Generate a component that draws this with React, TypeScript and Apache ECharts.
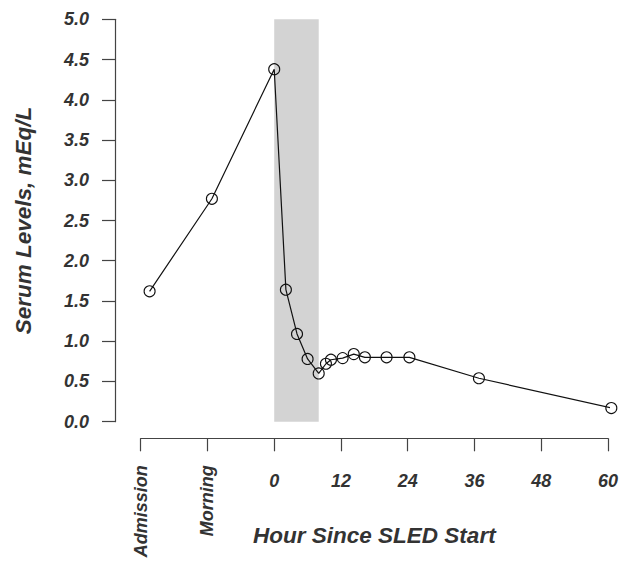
import React, { useEffect, useRef } from "react";
import * as echarts from "echarts";

const hours = [-22.4, -11.2, 0, 2.1, 4.1, 6.0, 8.0, 9.3, 10.2, 12.3, 14.3, 16.3, 20.2, 24.3, 36.8, 60.6];
const serum = [1.62, 2.77, 4.38, 1.64, 1.09, 0.78, 0.6, 0.72, 0.77, 0.79, 0.84, 0.8, 0.8, 0.8, 0.54, 0.17];
const sledStart = 0;
const sledEnd = 8;
const namedTicks: Record<number, string> = { [-24]: "Admission", [-12]: "Morning" };
const xTitle = "Hour Since SLED Start";
const yTitle = "Serum Levels, mEq/L";

const FONT = "'Liberation Sans', Arial, sans-serif";
const TEXT = "#333";
const AXIS = "#444";

export default function App() {
  const ref = useRef<HTMLDivElement>(null);
  useEffect(() => {
    document.body.style.margin = "0";
    const chart = echarts.init(ref.current!, null, { renderer: "svg" });
    const labelStyle = {
      fontFamily: FONT,
      fontWeight: "bold" as const,
      fontStyle: "italic" as const,
      color: TEXT,
      fontSize: 18,
    };
    chart.setOption({
      animation: false,
      backgroundColor: "#fff",
      grid: { left: 140.7, right: 11.7, top: 19.3, bottom: 139.3 },
      xAxis: [
        {
          type: "value",
          min: -24,
          max: 60,
          interval: 12,
          position: "bottom",
          offset: 16.6,
          splitLine: { show: false },
          axisLine: { show: true, onZero: false, lineStyle: { color: AXIS, width: 1.2 } },
          axisTick: { show: true, length: 13, lineStyle: { color: AXIS, width: 1.2 } },
          axisLabel: {
            ...labelStyle,
            margin: 34,
            formatter: (v: number) => (v < 0 ? "" : String(v)),
          },
          name: xTitle,
          nameLocation: "middle",
          nameGap: 86,
          nameTextStyle: { ...labelStyle, fontSize: 22.5 },
        },
        {
          type: "value",
          min: -24,
          max: 60,
          interval: 12,
          position: "bottom",
          offset: 16.6,
          splitLine: { show: false },
          axisLine: { show: false, onZero: false },
          axisTick: { show: false },
          axisLabel: {
            ...labelStyle,
            margin: 27,
            rotate: 90,
            formatter: (v: number) => namedTicks[v] ?? "",
          },
        },
      ],
      yAxis: {
        type: "value",
        min: 0,
        max: 5,
        interval: 0.5,
        offset: 25.7,
        splitLine: { show: false },
        axisLine: { show: true, onZero: false, lineStyle: { color: AXIS, width: 1.2 } },
        axisTick: { show: true, length: 13, lineStyle: { color: AXIS, width: 1.2 } },
        axisLabel: {
          ...labelStyle,
          margin: 26,
          formatter: (v: number) => v.toFixed(1),
        },
        name: yTitle,
        nameLocation: "middle",
        nameGap: 80,
        nameTextStyle: { ...labelStyle, fontSize: 22.5 },
      },
      series: [
        {
          type: "line",
          xAxisIndex: 0,
          clip: false,
          data: hours.map((h, i) => [h, serum[i]]),
          symbol: "circle",
          symbolSize: 11,
          showAllSymbol: true,
          lineStyle: { color: "#111", width: 1.2 },
          itemStyle: { color: "rgba(0,0,0,0)", borderColor: "#111", borderWidth: 1.1 },
          markArea: {
            silent: true,
            itemStyle: { color: "#d3d3d3", opacity: 1 },
            data: [[{ xAxis: sledStart, yAxis: 0 }, { xAxis: sledEnd, yAxis: 5 }]],
          },
          z: 3,
        },
      ],
    });
    return () => chart.dispose();
  }, []);
  return <div ref={ref} style={{ width: 621, height: 561 }} />;
}
